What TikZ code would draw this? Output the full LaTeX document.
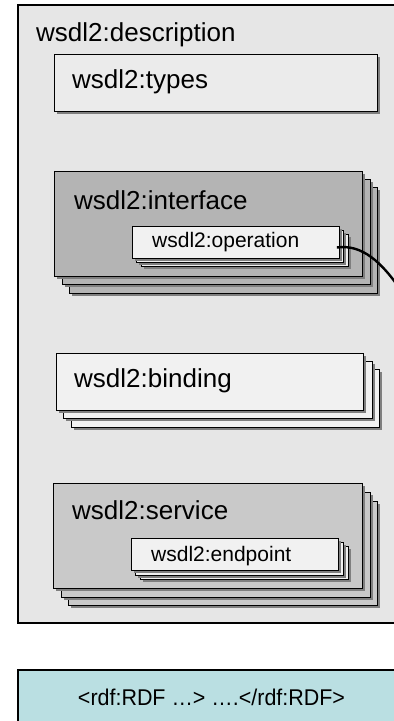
\documentclass[tikz,border=0pt]{standalone}
\usepackage{fontspec}
\setmainfont{Liberation Sans}
\usetikzlibrary{shadows,calc}
\definecolor{bgdesc}{HTML}{E6E6E6}
\definecolor{typesfill}{HTML}{EBEBEB}
\definecolor{intfill}{HTML}{B4B4B4}
\definecolor{servfill}{HTML}{C9C9C9}
\definecolor{lightfill}{HTML}{F1F1F1}
\definecolor{rdffill}{HTML}{BADFE2}
\definecolor{shadowgray}{HTML}{7F7F7F}
\tikzset{
  box/.style={draw=black, line width=0.9pt,
    drop shadow={shadow xshift=3pt, shadow yshift=-3pt, fill=shadowgray, opacity=1}},
  bigtext/.style={anchor=west, inner sep=0pt, font=\fontsize{26}{29}\selectfont},
  smalltext/.style={anchor=west, inner sep=0pt, font=\fontsize{21}{24}\selectfont},
  link/.style={draw=black, line width=2.4pt},
}
\begin{document}
\begin{tikzpicture}[x=1pt,y=-1pt]
\useasboundingbox (0,0) rectangle (394,721);
\clip (0,0) rectangle (394,721);
\fill[white] (0,0) rectangle (394,721);

% description container
\draw[fill=bgdesc, line width=1.2pt] (18,5) rectangle (420,623);
\node[bigtext] (desc) at (36,35) {wsdl2:description};

% types
\draw[box, fill=typesfill] (54,54) rectangle (377,111);
\node[bigtext] (types) at (72,82) {wsdl2:types};

% interface stack
\draw[box, fill=intfill] (69,187) rectangle (377,293);
\draw[box, fill=intfill] (62,179) rectangle (370,284);
\draw[box, fill=intfill] (54,171) rectangle (362,276);
\node[bigtext] (int) at (74,200) {wsdl2:interface};

% operation stack
\draw[box, fill=lightfill] (141,234) rectangle (348,266);
\draw[box, fill=lightfill] (136,230) rectangle (343,262);
\node[box, fill=lightfill, minimum width=207pt, minimum height=32pt, inner sep=0pt, anchor=north west] (opbox) at (132,226) {};
\node[smalltext] (op) at (152,242) {wsdl2:operation};

% connector from operation
\coordinate (opstart) at ($(opbox.east)+(-3,5)$);
\coordinate (opend) at (402,292);
\draw[link] (opstart) .. controls (362,244) and (382,262) .. (opend);

% binding stack
\draw[box, fill=lightfill] (71,369) rectangle (379,427);
\draw[box, fill=lightfill] (63,361) rectangle (372,418);
\draw[box, fill=lightfill] (56,353) rectangle (363,410);
\node[bigtext] (bind) at (74,381) {wsdl2:binding};

% service stack
\draw[box, fill=servfill] (68,501) rectangle (377,605);
\draw[box, fill=servfill] (61,492) rectangle (370,597);
\draw[box, fill=servfill] (53,483) rectangle (362,588);
\node[bigtext] (serv) at (72,510) {wsdl2:service};

% endpoint stack
\draw[box, fill=lightfill] (140,546) rectangle (348,579);
\draw[box, fill=lightfill] (135,542) rectangle (343,575);
\draw[box, fill=lightfill] (131,538) rectangle (338,570);
\node[smalltext] (ep) at (151,556) {wsdl2:endpoint};

% rdf box
\draw[fill=rdffill, line width=1.2pt] (18,670) rectangle (420,740);
\node[inner sep=0pt, anchor=base] (rdf) at (211.5,705.5) {\resizebox{267pt}{16.5pt}{\fontsize{21}{24}\selectfont <rdf:RDF …> ….</rdf:RDF>}};
\end{tikzpicture}
\end{document}
